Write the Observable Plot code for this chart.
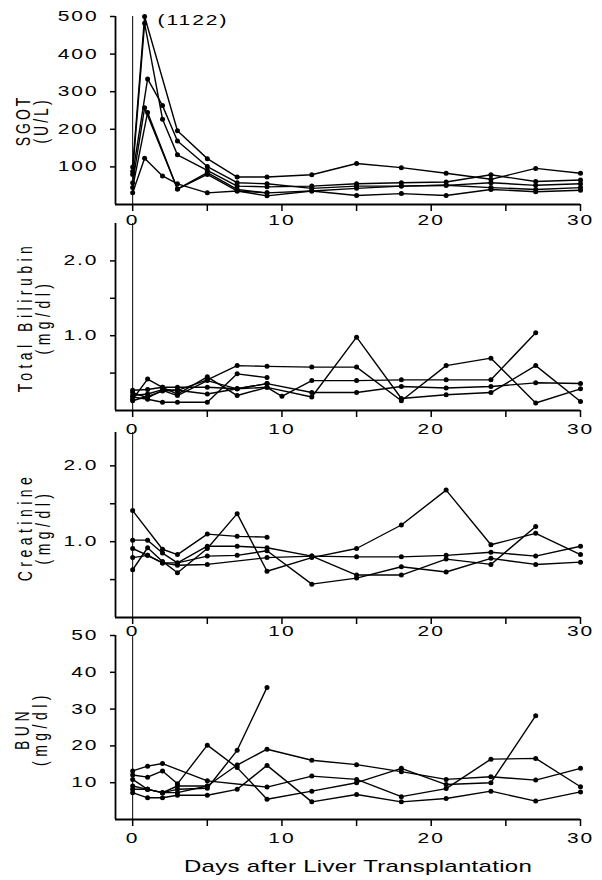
<!DOCTYPE html>
<html><head><meta charset="utf-8">
<script src="https://cdn.jsdelivr.net/npm/d3@7"></script>
<script src="https://cdn.jsdelivr.net/npm/@observablehq/plot@0.6"></script>
<style>
html,body{margin:0;padding:0;background:#fff;overflow:hidden;}
#wrap{position:relative;width:602px;height:880px;}
#wrap > div{position:absolute;left:0;}
</style></head><body><div id="wrap"></div>
<script>
// ---------- data (day, value) per patient ----------
const xTicks = [0, 5, 10, 15, 20, 25, 30];
const xTickLabels = [0, 10, 20, 30];

const sgotPeakActual = 1122;
const sgotSeries = [
  [[0,100],[0.8,500],[3,196],[5,122],[7,73],[9,73],[12,79],[15,109],[18,98],[21,83],[24,67],[27,96],[30,83]],
  [[0,88],[0.8,482],[2,227],[3,132],[5,91],[7,49],[9,47],[12,49],[15,55],[18,58],[21,60],[24,79],[27,61],[30,65]],
  [[0,80],[1,334],[2,263],[3,169],[5,101],[7,58],[9,55],[12,43],[15,49],[18,49],[21,51],[24,58],[27,51],[30,55]],
  [[0,58],[0.8,257],[3,41],[5,85],[7,40],[9,31],[12,36],[15,43],[18,49],[21,51],[24,45],[27,40],[30,45]],
  [[0,45],[1,245],[3,41],[5,80],[7,36],[9,31]],
  [[0,31],[0.8,123],[2,76],[3,55],[5,31],[7,36],[9,23],[12,36],[15,24],[18,29],[21,24],[24,40],[27,34],[30,38]]
];
const sgotTicks = [100, 200, 300, 400, 500];

const biliSeries = [
  [[0,.20],[1,.22],[2,.28],[3,.27],[5,.41],[7,.60],[9,.59],[12,.58],[15,.58],[18,.13],[21,.60],[24,.70],[27,.10],[30,.29]],
  [[0,.15],[1,.42],[2,.31],[3,.22],[5,.45],[7,.20],[9,.31],[12,.18],[15,.98],[18,.16],[21,.21],[24,.24],[27,.60],[30,.12]],
  [[0,.27],[1,.28],[2,.31],[3,.31],[5,.31],[7,.29],[9,.31],[10,.19],[12,.40],[15,.40],[18,.41],[21,.41],[24,.41],[27,1.04]],
  [[0,.13],[1,.19],[2,.26],[3,.27],[5,.22],[7,.29],[9,.36],[12,.24],[15,.24],[18,.32],[21,.30],[24,.32],[27,.37],[30,.36]],
  [[0,.18],[1,.15],[2,.11],[3,.11],[5,.11],[7,.49],[9,.44]],
  [[0,.24],[1,.17],[2,.27],[3,.20],[5,.40],[7,.29],[9,.36]]
];
const mgTicks = [0.5, 1, 1.5, 2];
const mgTickLabels = [1, 2];

const creaSeries = [
  [[0,1.41],[2,0.90],[3,0.83],[5,1.10],[7,1.07],[9,1.06]],
  [[0,1.02],[1,1.02],[2,0.85],[3,0.72],[5,0.94],[7,0.94],[9,0.92],[12,0.81],[15,0.56],[18,0.56],[21,0.77],[24,0.70],[27,1.20]],
  [[0,0.63],[1,0.92],[2,0.74],[3,0.59],[5,0.91],[7,1.37],[9,0.61],[12,0.79],[15,0.91],[18,1.22],[21,1.68],[24,0.96],[27,1.11],[30,0.83]],
  [[0,0.91],[1,0.82],[2,0.72],[3,0.72],[5,0.81],[7,0.82],[9,0.88],[12,0.44],[15,0.52],[18,0.67],[21,0.60],[24,0.78],[27,0.70],[30,0.73]],
  [[0,0.79],[1,0.82],[2,0.72],[3,0.69],[5,0.70],[9,0.79],[12,0.81],[15,0.80],[18,0.80],[21,0.82],[24,0.86],[27,0.81],[30,0.94]]
];

const bunSeries = [
  [[0,9.1],[1,8.2],[2,7.3],[3,8.2],[5,8.5],[7,18.8],[9,35.9]],
  [[0,12.1],[1,11.5],[2,13.2],[3,9.7],[5,20.2],[7,14.1],[9,5.5],[12,7.7],[15,10.0],[18,13.9],[21,9.5],[24,10.0],[27,28.2]],
  [[0,13.2],[1,14.5],[2,15.2],[5,10.5],[9,8.8],[12,11.8],[15,10.9],[18,6.2],[21,8.4],[24,16.4],[27,16.6],[30,8.9]],
  [[0,10.9],[1,8.2],[2,7.3],[3,9.1],[5,9.1],[7,14.8],[9,19.1],[12,16.1],[15,14.9],[18,13.0],[21,10.9],[24,11.6],[27,10.7],[30,13.9]],
  [[0,7.3],[1,5.9],[2,5.9],[3,6.6],[5,6.6],[7,8.2],[9,14.7],[12,4.8],[15,6.8],[18,4.8],[21,5.7],[24,7.7],[27,5.0],[30,7.5]],
  [[0,8.2],[1,8.2],[2,7.3],[3,7.3],[5,9.1]]
];
const bunTicks = [10, 20, 30, 40, 50];

const xTitle = "Days after Liver Transplantation";

// ---------- layout ----------
const xDomain = [-1.15, 30];
const K = 1.5; // horizontal stretch of the lettering
const FONT = "'Liberation Sans', Arial, Helvetica, sans-serif";
const SVGNS = "http://www.w3.org/2000/svg";

function rowsOf(series) {
  return series.flatMap((s, id) => s.map(([day, v]) => ({id, day, v})));
}

function firstLen(list) {
  try { return list.numberOfItems ? list.getItem(0).value : 0; } catch (e) { return 0; }
}

// stretch every text horizontally about its own anchor point
function stretchText(svg) {
  Array.from(svg.querySelectorAll("text")).forEach(t => {
    const x = firstLen(t.x.baseVal), y = firstLen(t.y.baseVal);
    const c = t.transform.baseVal.consolidate();
    const m = c ? c.matrix : {a: 1, b: 0, c: 0, d: 1, e: 0, f: 0};
    let ax = m.a * x + m.c * y + m.e, ay = m.b * x + m.d * y + m.f;
    if (!isFinite(ax)) ax = 0;
    if (!isFinite(ay)) ay = 0;
    const g = document.createElementNS(SVGNS, "g");
    g.setAttribute("transform", `translate(${ax},${ay}) scale(${K},1) translate(${-ax},${-ay})`);
    t.parentNode.insertBefore(g, t);
    g.appendChild(t);
  });
}

function panel(cfg) {
  const rows = rowsOf(cfg.series);
  const marks = [
    Plot.ruleY([cfg.yDomain[0]], {strokeWidth: 1.8}),
    Plot.ruleX([xDomain[0]], {strokeWidth: 1.8}),
    Plot.ruleX([0], {strokeWidth: 1}),
    Plot.axisX({ticks: xTicks, tickSize: 7, tickPadding: cfg.padX, strokeWidth: 1.5,
      tickFormat: d => xTickLabels.includes(d) ? String(d) : "", label: null}),
    Plot.axisY({ticks: cfg.yTicks, tickSize: 5, tickPadding: 12, strokeWidth: 1.5,
      tickFormat: cfg.yFormat, label: null}),
    Plot.line(rows, {x: "day", y: "v", z: "id", stroke: "black", strokeWidth: 1.4}),
    Plot.dot(rows, {x: "day", y: "v", r: 2.5, fill: "black"}),
    Plot.text([cfg.title], {text: d => d, frameAnchor: "left", rotate: -90,
      dx: cfg.titleX - 115, dy: cfg.titleDy, fontSize: 14, lineHeight: 0.82,
      textAnchor: "middle", lineAnchor: "middle", ariaDescription: "ytitle"}),
    ...(cfg.extra ? cfg.extra(rows) : [])
  ];
  const svg = Plot.plot({
    width: 602, height: cfg.height,
    marginLeft: 115, marginRight: 22, marginTop: cfg.mt, marginBottom: cfg.mb,
    x: {domain: xDomain}, y: {domain: cfg.yDomain},
    style: `background: transparent; overflow: visible; max-width: none; font-family: ${FONT}; font-size: 14px; letter-spacing: 1.3px; color: black;`,
    marks
  });
  const div = document.createElement("div");
  div.style.top = cfg.top + "px";
  div.appendChild(svg);
  document.getElementById("wrap").appendChild(div);
  svg.querySelectorAll('[aria-description="ytitle"] text').forEach(t => t.style.letterSpacing = cfg.titleSpacing + "px");
  svg.querySelectorAll('[aria-description="xtitle"] text').forEach(t => t.style.letterSpacing = "0.2px");
  stretchText(svg);
}

const mgFormat = d => mgTickLabels.includes(d) ? d.toFixed(1) : "";

panel({series: sgotSeries, top: 0, height: 224, mt: 16, mb: 20, yDomain: [0, 500],
  yTicks: sgotTicks, yFormat: d => String(d), padX: 4,
  title: "SGOT\n(U/L)", titleX: 33, titleDy: 10, titleSpacing: 3,
  extra: rows => {
    const peak = d3.greatest(rows, r => r.v);
    return [Plot.text([peak], {x: "day", y: "v", text: () => `(${sgotPeakActual})`,
      textAnchor: "start", dx: 13, dy: 4, fontSize: 14})];
  }});

panel({series: biliSeries, top: 214, height: 216, mt: 9, mb: 20, yDomain: [0, 2.5],
  yTicks: mgTicks, yFormat: mgFormat, padX: 7,
  title: "Total Bilirubin\n(mg/dl)", titleX: 35, titleDy: 0, titleSpacing: 4.5});

panel({series: creaSeries, top: 424, height: 213, mt: 8, mb: 20, yDomain: [0, 2.44],
  yTicks: mgTicks, yFormat: mgFormat, padX: 2,
  title: "Creatinine\n(mg/dl)", titleX: 35, titleDy: 2, titleSpacing: 4.5});

panel({series: bunSeries, top: 626, height: 254, mt: 9, mb: 61, yDomain: [0, 50],
  yTicks: bunTicks, yFormat: d => String(d), padX: 7,
  title: "BUN\n(mg/dl)", titleX: 32, titleDy: 1, titleSpacing: 4.5,
  extra: () => [Plot.text([xTitle], {text: d => d, frameAnchor: "bottom", dx: 10, dy: 47,
    fontSize: 16, lineAnchor: "middle", ariaDescription: "xtitle"})]});
</script></body></html>
